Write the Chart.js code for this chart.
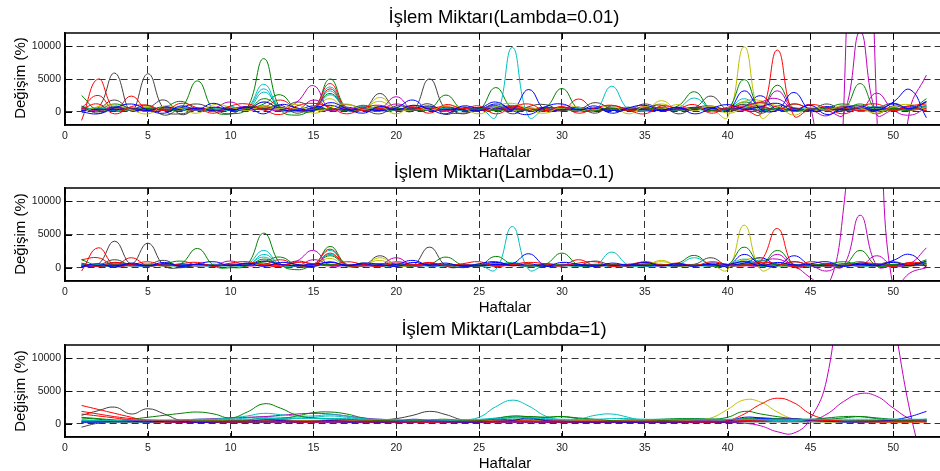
<!DOCTYPE html>
<html><head><meta charset="utf-8">
<script src="https://cdn.jsdelivr.net/npm/chart.js@4/dist/chart.umd.min.js"></script>
<style>
html,body{margin:0;padding:0;background:#fff;width:940px;height:471px;overflow:hidden;position:relative;}
.panel{position:absolute;left:0;width:943px;height:157px;}
.panel canvas{display:block;}
.txt{position:absolute;font-family:"Liberation Sans",Arial,sans-serif;color:#000;white-space:nowrap;line-height:1;}
.ttl{font-size:18.5px;transform:translate(-50%,-50%);}
.xl{font-size:15px;transform:translate(-50%,-50%);}
.yl{font-size:15px;transform:translate(-50%,-50%) rotate(-90deg);}
</style>
</head><body>
<div class="panel" style="top:0px"><canvas id="c1" width="943" height="157"></canvas></div>
<div class="panel" style="top:157px"><canvas id="c2" width="943" height="157"></canvas></div>
<div class="panel" style="top:314px"><canvas id="c3" width="943" height="157"></canvas></div>

<div class="txt ttl" style="left:504px;top:17px">İşlem Miktarı(Lambda=0.01)</div>
<div class="txt xl" style="left:505px;top:151px">Haftalar</div>
<div class="txt yl" style="left:19px;top:78px">Değişim (%)</div>

<div class="txt ttl" style="left:504px;top:172px">İşlem Miktarı(Lambda=0.1)</div>
<div class="txt xl" style="left:505px;top:306px">Haftalar</div>
<div class="txt yl" style="left:19px;top:234px">Değişim (%)</div>

<div class="txt ttl" style="left:504px;top:329px">İşlem Miktarı(Lambda=1)</div>
<div class="txt xl" style="left:505px;top:462px">Haftalar</div>
<div class="txt yl" style="left:19px;top:391px">Değişim (%)</div>

<script>
const weeks = [1,2,3,4,5,6,7,8,9,10,11,12,13,14,15,16,17,18,19,20,21,22,23,24,25,26,27,28,29,30,31,32,33,34,35,36,37,38,39,40,41,42,43,44,45,46,47,48,49,50,51,52];
const xTicks = [0,5,10,15,20,25,30,35,40,45,50];
const yTicks = [0,5000,10000];

// ---------- Lambda = 0.01 ----------
const p1B1 = [200,400,300,600,200,800,300,500,200,400, 300,1500,400,200,600,1000,300,500,200,600, 1800,200,400,300,200,600,300,3400,200,400, 300,500,200,400,300,200,500,300,600,200, 3200,400,300,2950,200,400,300,600,200,1500, 3400,-900];
const p1B2 = [500,100,700,200,400,300,600,200,700,300, 800,400,600,300,900,400,700,300,800,400, 500,900,300,700,400,1200,500,300,600,300, 700,300,500,200,600,400,300,700,300,500, 800,2450,300,500,200,800,300,400,700,300, 900,200];
const p1B3 = [0,-300,600,1200,300,-200,900,400,1300,200, 700,-300,1100,600,200,1400,500,-200,800,300, 1000,400,-300,900,600,1500,200,-400,800,1200, 300,900,-200,600,1000,300,700,-300,500,1100, 400,800,1300,200,1000,-400,600,900,300,1200, 500,1600];
const p1G1 = [2500,200,400,300,500,300,600,4700,200,-300, 600,8100,400,-500,300,500,200,400,300,500, 300,400,2560,300,500,200,400,300,600,3550, 400,200,500,300,400,600,300,500,200,400, 4900,300,500,200,400,600,300,4300,200,500, 300,1500];
const p1G2 = [800,400,1200,500,300,700,1600,400,600,300, 500,1200,2600,400,300,5000,600,1000,400,300, 600,300,500,400,300,3700,500,300,700,400, 300,600,400,300,500,400,900,3060,400,300, 700,400,4060,500,300,600,1200,400,300,600, 400,2000];
const p1G3 = [300,600,200,400,700,300,500,200,400,600, 300,2000,700,300,500,2800,400,300,600,200, 400,700,300,500,200,400,600,300,500,200, 600,300,400,700,300,500,200,600,300,400, 1500,600,300,500,200,700,400,1200,300,500, 200,800];
const p1R1 = [-1300,5000,300,500,200,400,300,600,200,400, 300,500,700,300,600,4300,400,200,500,300, 400,600,300,500,200,400,700,300,500,200, 1950,300,500,200,400,600,300,500,200,400, 300,-300,9400,-600,400,300,500,200,400,300, 600,200];
const p1R2 = [600,2500,300,2400,200,600,400,300,700,300, 500,700,1800,500,300,3500,400,700,300,500, 300,500,800,300,600,400,900,500,300,700, 400,300,600,300,800,500,300,400,700,300, 600,900,300,1200,500,300,700,400,300,600, 300,500];
const p1R3 = [400,1200,-300,800,1000,200,1300,600,-200,900, 1200,300,-400,900,1300,700,-300,600,1000,300, 800,-200,1100,500,900,-300,700,1200,200,800, -200,600,1000,300,-300,900,600,1100,-200,700, 900,1400,700,300,1100,600,-300,800,1200,200, 900,1200];
const p1C1 = [300,600,200,500,300,400,600,300,500,200, 600,4200,500,300,600,3800,400,300,600,200, 400,300,500,200,600,-800,9800,-800,400,300, 500,200,3900,400,300,600,200,500,300,400, 2000,300,500,200,400,300,600,200,500,300, 400,800];
const p1C2 = [700,300,800,400,600,300,700,400,300,800, 300,3000,700,400,300,2600,500,800,300,600, 300,700,400,600,300,800,400,300,700,400, 300,600,400,700,300,500,600,2100,400,300, 700,1500,300,600,400,700,300,500,800,300, 600,1000];
const p1C3 = [100,400,200,300,100,500,200,300,100,400, 500,3500,300,100,400,3200,200,400,100,300, 200,400,100,300,200,500,1000,300,200,400, 100,300,200,400,100,300,200,400,100,300, 1200,200,400,100,300,200,500,100,300,200, 400,600];
const p1M1 = [400,200,600,300,500,200,400,300,600,1500, 300,500,200,1500,4000,300,600,200,400,2300, 300,500,200,400,600,300,500,200,400,300, 600,200,400,300,500,200,400,600,300,500, 200,400,3200,300,500,200,-400,12200,-400,300, 500,300];
const p1M2 = [200,500,300,400,200,600,300,500,200,400, 600,300,500,300,400,200,500,300,600,400, 200,500,300,400,200,600,300,500,200,400, 300,500,200,400,300,500,200,300,500,200, 400,300,500,200,800,-20000,0,120000,0,-20000, 300,5600];
const p1M3 = [600,300,800,400,300,700,400,600,300,500, 800,400,700,300,1800,600,300,800,400,1200, 500,300,700,400,300,900,400,600,300,700, 400,500,300,600,400,300,700,400,500,300, 600,1500,2000,400,300,-600,1000,300,2850,300, -500,600];
const p1Y1 = [400,200,500,300,600,200,400,300,500,200, 400,600,300,500,200,400,600,300,2200,400, 300,600,200,500,300,400,200,600,300,500, 200,400,300,500,200,1700,300,500,400,-800, 9900,-800,500,300,400,200,600,300,500,200, 400,300];
const p1Y2 = [200,600,300,400,800,300,500,200,600,400, 300,1500,500,300,600,2000,300,500,1600,300, 500,800,300,400,600,300,500,200,700,300, 500,300,600,200,500,1200,400,300,600,300, 1600,1700,300,500,200,400,300,600,200,500, 300,700];
const p1Y3 = [-200,800,1000,300,-300,900,500,-200,1100,700, 200,900,500,1100,-200,700,1200,400,800,-300, 1000,300,900,600,-300,800,1300,400,-200,900, 700,300,1000,-300,800,400,1100,200,900,-200, 600,1200,900,-500,700,300,1000,600,-200,800, 1100,300];
const p1K1 = [300,600,5900,100,5800,300,-300,400,200,500, 300,600,200,400,300,500,200,400,300,600, 200,5000,300,-200,400,300,500,200,400,300, 500,200,400,300,500,200,400,300,600,200, 400,300,500,200,400,300,600,200,400,300, 500,200];
const p1K2 = [200,500,1800,300,600,1800,-400,500,300,700, 400,900,300,1500,600,400,700,300,2800,400, 600,300,500,-300,400,300,800,500,300,700, 400,1400,500,300,1200,400,300,600,2400,300, 500,700,400,1200,500,300,800,400,600,1300, 500,900];
const p1K3 = [900,-200,700,400,1000,-500,600,1200,300,-300, 800,500,1000,-200,700,300,1100,400,-300,900, 600,1200,-400,700,300,1000,-300,800,1100,200, 700,-200,900,400,600,1000,-300,600,900,400, 1100,-200,900,600,300,1200,200,700,-300,900, 400,1500];

// ---------- Lambda = 0.1 ----------
const p2B1 = [200,300,300,500,300,600,400,500,300,400, 400,1000,500,300,500,800,400,500,300,500, 1100,300,400,300,300,500,600,2100,300,400, 300,400,300,400,300,300,400,300,500,300, 2000,500,300,1800,400,400,300,500,300,1100, 2000,100];
const p2B2 = [400,200,500,300,300,400,500,300,500,300, 600,400,500,300,600,400,500,300,600,400, 400,700,300,500,400,800,400,300,500,300, 500,300,400,300,500,400,300,500,300,400, 700,1500,400,400,300,600,300,400,500,300, 700,300];
const p2B3 = [200,600,100,700,300,800,200,600,900,300, 700,200,800,500,200,900,300,700,500,200, 800,400,700,200,600,900,300,600,200,800, 500,200,700,400,800,300,600,200,700,500, 900,300,800,400,600,900,200,700,400,800, 300,1000];
const p2G1 = [1200,300,400,300,400,300,600,2900,300,0, 500,5200,600,-300,300,500,300,400,300,400, 300,500,1600,400,400,300,400,300,500,2200, 400,300,400,300,400,500,300,400,300,400, 3100,400,500,300,400,500,300,2600,300,400, 300,900];
const p2G2 = [600,400,800,500,300,600,1000,400,500,300, 500,900,1600,400,300,3200,500,700,400,300, 500,300,400,400,300,1700,500,300,600,400, 300,500,400,300,400,400,700,1850,400,300, 600,400,2600,500,300,500,900,400,300,500, 400,1200];
const p2G3 = [300,500,300,400,500,300,400,300,400,500, 300,1300,500,300,400,1800,400,300,500,300, 400,500,300,400,300,400,500,300,400,300, 500,300,400,500,300,400,300,500,300,400, 1000,500,300,400,300,500,400,900,300,400, 300,500];
const p2R1 = [-500,3000,300,400,300,400,300,500,300,400, 300,400,500,300,500,2800,400,300,400,300, 400,500,300,400,300,400,500,300,400,300, 1200,300,400,300,400,500,300,400,300,400, 300,1000,5900,200,400,300,400,300,400,300, 500,300];
const p2R2 = [1200,1500,400,1500,300,500,400,300,500,300, 400,500,1200,400,300,2200,400,500,300,400, 300,400,500,300,400,400,600,400,300,500, 400,300,500,300,600,400,300,400,500,300, 500,700,300,900,400,300,500,400,300,500, 300,400];
const p2R3 = [700,200,800,500,900,300,600,800,200,700, 900,400,200,800,600,300,900,500,200,700, 400,800,300,600,900,200,500,800,600,300, 700,900,200,500,800,400,700,300,900,500, 300,800,600,200,900,500,300,700,600,200, 800,600];
const p2C1 = [300,500,300,400,300,400,500,300,400,300, 500,2600,400,300,500,2600,400,300,500,300, 400,300,400,300,400,-300,6200,-300,400,300, 400,300,2350,400,300,500,300,400,300,400, 1300,300,400,300,400,300,500,300,400,300, 400,600];
const p2C2 = [500,300,600,400,500,300,500,400,300,600, 300,2000,500,400,300,2000,400,600,300,500, 300,500,400,500,300,600,400,300,500,400, 300,500,400,500,300,400,500,1500,400,300, 500,1100,300,500,400,500,300,400,600,300, 500,700];
const p2C3 = [200,300,200,300,200,400,200,300,200,300, 400,1600,300,200,300,2000,200,300,200,300, 200,300,200,300,200,400,800,300,200,300, 200,300,200,300,200,300,200,300,200,300, 900,200,300,200,300,200,400,200,300,200, 300,400];
const p2M1 = [300,200,400,300,400,300,400,300,400,1000, 300,400,300,1000,2600,300,400,300,400,1500, 300,400,300,400,400,300,400,300,400,300, 400,300,400,300,400,300,400,400,300,400, 300,400,2000,300,400,300,300,7900,300,300, 400,300];
const p2M2 = [300,400,300,400,300,400,300,400,300,400, 400,300,400,300,400,300,400,300,400,300, 300,400,300,400,300,400,300,400,300,400, 300,400,300,400,300,400,300,300,400,300, 400,300,400,200,-1500,-3000,9000,40000,26000,-3000, -800,0];
const p2M3 = [500,300,600,400,300,500,400,500,300,500, 600,400,500,300,1200,500,300,600,400,900, 500,300,500,400,300,600,400,500,300,500, 400,500,300,500,400,300,500,400,500,300, 500,1000,1300,400,300,-500,600,300,1800,300, 600,3000];
const p2Y1 = [300,200,400,300,400,300,400,300,400,300, 400,500,300,400,300,400,500,300,1500,400, 300,500,300,400,300,400,300,500,300,400, 300,400,300,400,300,1100,300,400,400,-300, 6400,-300,400,300,400,300,500,300,400,300, 400,300];
const p2Y2 = [300,500,300,400,600,300,400,300,500,400, 300,1000,400,300,500,1400,300,400,1100,300, 400,600,300,400,500,300,400,300,500,300, 400,300,500,300,400,900,400,300,500,300, 1200,1300,300,400,300,400,300,500,300,400, 300,500];
const p2K1 = [300,500,4000,600,3700,300,0,400,300,400, 300,500,300,400,300,400,300,400,300,500, 300,3100,300,100,400,300,400,300,400,300, 400,300,400,300,400,300,400,300,500,300, 400,300,400,300,400,300,500,300,400,300, 400,300];
const p2K2 = [300,400,1200,400,500,1100,100,400,300,500, 400,700,300,1000,500,400,500,300,1800,400, 500,300,400,0,400,300,600,400,300,500, 400,1000,400,300,900,400,300,500,1500,300, 400,500,400,900,400,300,600,400,500,900, 400,700];

// ---------- Lambda = 1 ----------
const p3B1 = [300,300,400,400,300,400,400,300,300,400, 400,600,500,400,400,500,400,400,300,400, 700,500,400,300,300,400,500,900,500,400, 300,300,300,300,300,300,300,400,400,400, 1000,900,700,800,500,400,300,300,400,600, 1100,1900];
const p3B2 = [200,200,300,300,300,300,300,200,300,300, 300,400,400,300,400,400,300,300,300,300, 300,400,300,300,300,500,500,400,300,300, 300,300,300,200,300,300,300,300,300,300, 400,800,500,500,400,400,300,300,300,400, 500,600];
const p3G1 = [600,500,500,700,1000,1300,1600,1800,1500,900, 1800,3050,2400,1300,900,800,700,600,500,500, 500,600,700,500,500,800,1200,1100,1000,1100, 900,700,500,400,400,500,600,700,700,1000, 1900,1500,1100,800,700,900,1100,1100,800,500, 500,700];
const p3G2 = [900,700,500,400,400,400,500,500,500,500, 600,900,800,1200,1700,1800,1500,900,600,500, 500,500,400,400,500,600,700,700,600,500, 500,500,500,600,600,700,800,800,700,600, 700,800,800,700,600,500,500,500,500,500, 500,500];
const p3G3 = [1000,800,600,500,400,400,500,500,400,400, 500,600,600,500,500,600,600,500,500,500, 400,400,400,400,500,700,1000,1100,1000,1100, 800,600,500,500,500,500,600,700,700,600, 800,900,800,700,600,700,900,1100,900,700, 600,700];
const p3R1 = [2800,2200,1600,1000,400,300,300,300,300,300, 300,400,400,300,300,400,400,300,300,300, 300,300,300,300,300,300,400,400,300,300, 300,300,300,300,300,300,300,300,300,500, 1500,3000,3900,3200,1500,700,400,300,300,300, 300,300];
const p3R2 = [1500,1200,900,600,400,400,300,300,300,400, 400,500,600,500,400,500,500,400,300,300, 300,300,400,400,300,400,500,500,400,300, 300,300,300,300,300,300,300,300,300,300, 400,500,600,700,600,500,400,400,300,300, 300,300];
const p3R3 = [1900,1500,1100,800,600,500,500,400,400,400, 400,400,400,400,400,400,400,400,400,400, 400,400,400,400,400,400,400,400,400,400, 400,400,400,400,400,400,400,400,400,400, 500,600,700,700,600,500,400,400,400,400, 400,400];
const p3C1 = [300,300,300,300,300,400,500,600,700,900, 1200,1600,1400,1200,1200,1400,1200,800,600,500, 500,500,500,600,1000,2600,3600,2700,1200,600, 700,1300,1500,1000,400,400,400,400,400,500, 600,600,500,500,500,500,500,400,400,400, 400,400];
const p3C2 = [400,400,400,400,400,500,500,500,600,700, 900,1100,1000,900,1000,1200,1000,700,500,400, 400,400,500,500,600,900,1100,900,700,600, 500,500,500,500,400,400,400,400,400,400, 500,500,500,400,400,400,400,400,400,400, 400,400];
const p3C3 = [500,500,500,600,600,600,600,700,700,700, 700,800,800,800,800,800,800,700,700,600, 600,600,600,600,700,800,900,900,800,700, 700,700,800,800,700,700,700,700,700,700, 700,700,700,700,700,700,700,700,700,700, 700,700];
const p3M1 = [300,300,400,500,500,500,600,700,800,900, 1000,1100,1300,1500,1600,1500,1200,900,700,600, 500,500,400,400,400,400,400,400,400,400, 400,400,400,400,400,400,400,400,400,400, 400,400,500,500,500,1500,3400,4600,4200,2400, 800,300];
const p3M2 = [200,200,200,200,200,200,200,200,200,200, 200,200,200,200,200,200,200,200,200,200, 200,200,200,200,200,200,200,200,200,200, 200,200,200,200,200,200,200,200,200,200, 100,-300,-1200,-1400,800,7000,25000,32000,28000,16000, 2000,-8000];
const p3Y1 = [300,300,300,300,300,300,400,400,400,400, 400,500,500,500,500,500,500,500,500,500, 500,500,500,500,500,500,500,500,500,500, 500,500,500,500,500,500,500,600,900,2200, 3650,3300,1800,700,400,300,300,300,300,300, 300,300];
const p3K1 = [1300,2000,2550,1500,2300,1500,500,400,300,300, 300,300,400,400,500,500,400,500,600,800, 1300,1900,1400,600,500,400,400,400,400,400, 400,400,400,400,400,400,400,400,400,400, 400,400,500,500,500,400,400,400,400,400, 400,400];
const p3K2 = [-500,100,300,300,300,300,300,300,300,300, 300,300,300,300,300,300,300,300,300,300, 300,300,300,300,300,300,300,300,300,300, 300,300,300,300,300,300,300,300,300,300, 300,300,300,300,300,300,300,300,300,300, 300,500];

const C = {b:'#0000FF', g:'#008000', r:'#FF0000', c:'#00BFBF', m:'#BF00BF', y:'#BFBF00', k:'#404040'};

const plot1 = [[p1B3,C.b],[p1R3,C.r],[p1Y3,C.y],[p1K3,C.k],
               [p1B1,C.b],[p1G1,C.g],[p1R1,C.r],[p1C1,C.c],[p1M1,C.m],[p1Y1,C.y],[p1K1,C.k],
               [p1B2,C.b],[p1G2,C.g],[p1R2,C.r],[p1C2,C.c],[p1M3,C.m],[p1Y2,C.y],[p1K2,C.k],
               [p1G3,C.g],[p1C3,C.c],[p1M2,C.m]];
const plot2 = [[p2B3,C.b],[p2R3,C.r],
               [p2B1,C.b],[p2G1,C.g],[p2R1,C.r],[p2C1,C.c],[p2M1,C.m],[p2Y1,C.y],[p2K1,C.k],
               [p2B2,C.b],[p2G2,C.g],[p2R2,C.r],[p2C2,C.c],[p2M3,C.m],[p2Y2,C.y],[p2K2,C.k],
               [p2G3,C.g],[p2C3,C.c],[p2M2,C.m]];
const plot3 = [[p3C3,C.c],[p3R3,C.r],
               [p3B1,C.b],[p3G1,C.g],[p3R1,C.r],[p3C1,C.c],[p3M1,C.m],[p3Y1,C.y],[p3K1,C.k],
               [p3B2,C.b],[p3G2,C.g],[p3R2,C.r],[p3C2,C.c],[p3K2,C.k],[p3G3,C.g],[p3M2,C.m]];

const boxPlugin = {
  id:'box',
  afterDatasetsDraw(chart){
    const {ctx, chartArea:a, scales:{x, y}} = chart;
    ctx.save();
    ctx.strokeStyle = '#000';
    ctx.lineWidth = 1.6;
    ctx.beginPath();
    ctx.moveTo(a.left, a.top); ctx.lineTo(a.right, a.top);
    ctx.moveTo(a.left, a.top); ctx.lineTo(a.left, a.bottom);
    ctx.moveTo(a.left, a.bottom); ctx.lineTo(a.right, a.bottom);
    ctx.stroke();
    ctx.lineWidth = 1;
    ctx.beginPath();
    xTicks.forEach(v => {
      const px = Math.round(x.getPixelForValue(v)) + 0.5;
      ctx.moveTo(px, a.top); ctx.lineTo(px, a.top + 6);
      ctx.moveTo(px, a.bottom); ctx.lineTo(px, a.bottom - 6);
    });
    yTicks.forEach(v => {
      const py = Math.round(y.getPixelForValue(v)) + 0.5;
      ctx.moveTo(a.left, py); ctx.lineTo(a.left + 7, py);
    });
    ctx.stroke();
    ctx.restore();
  }
};

function makePlot(id, series, topPad, xh){
  const datasets = series.map(([vals, col]) => ({
    data: vals.map((v, i) => ({x: weeks[i], y: v})),
    borderColor: col, backgroundColor: col, borderWidth: 1,
    pointRadius: 0, tension: 0.45, fill: false, clip: 0
  }));
  const tickFont = {family: '"Liberation Sans", Arial, sans-serif', size: 10.5};
  new Chart(document.getElementById(id), {
    type: 'line',
    data: {datasets},
    options: {
      responsive: false, animation: false, devicePixelRatio: 1,
      layout: {padding: {top: topPad, left: 0, right: 0, bottom: 0}},
      plugins: {legend: {display: false}, tooltip: {enabled: false}, title: {display: false}},
      scales: {
        x: {
          type: 'linear', min: 0, max: 53,
          afterBuildTicks: s => { s.ticks = xTicks.map(v => ({value: v})); },
          afterFit: s => { s.height = xh; },
          ticks: {font: tickFont, color: '#1a1a1a', padding: 5, maxRotation: 0, autoSkip: false, callback: v => String(v)},
          grid: {color: '#333', lineWidth: 1, drawTicks: false},
          border: {display: true, color: '#000', width: 1.6, dash: [7, 4]}
        },
        y: {
          type: 'linear', min: -2000, max: 12000,
          afterBuildTicks: s => { s.ticks = yTicks.map(v => ({value: v})); },
          afterFit: s => { s.width = 65; },
          ticks: {font: tickFont, color: '#1a1a1a', padding: 4, autoSkip: false, callback: v => String(v)},
          grid: {color: '#333', lineWidth: 1, drawTicks: false},
          border: {display: true, color: '#000', width: 1.6, dash: [7, 4]}
        }
      }
    },
    plugins: [boxPlugin]
  });
}

makePlot('c1', plot1, 33, 32);
makePlot('c2', plot2, 31, 33);
makePlot('c3', plot3, 31, 34);
</script>
</body></html>
